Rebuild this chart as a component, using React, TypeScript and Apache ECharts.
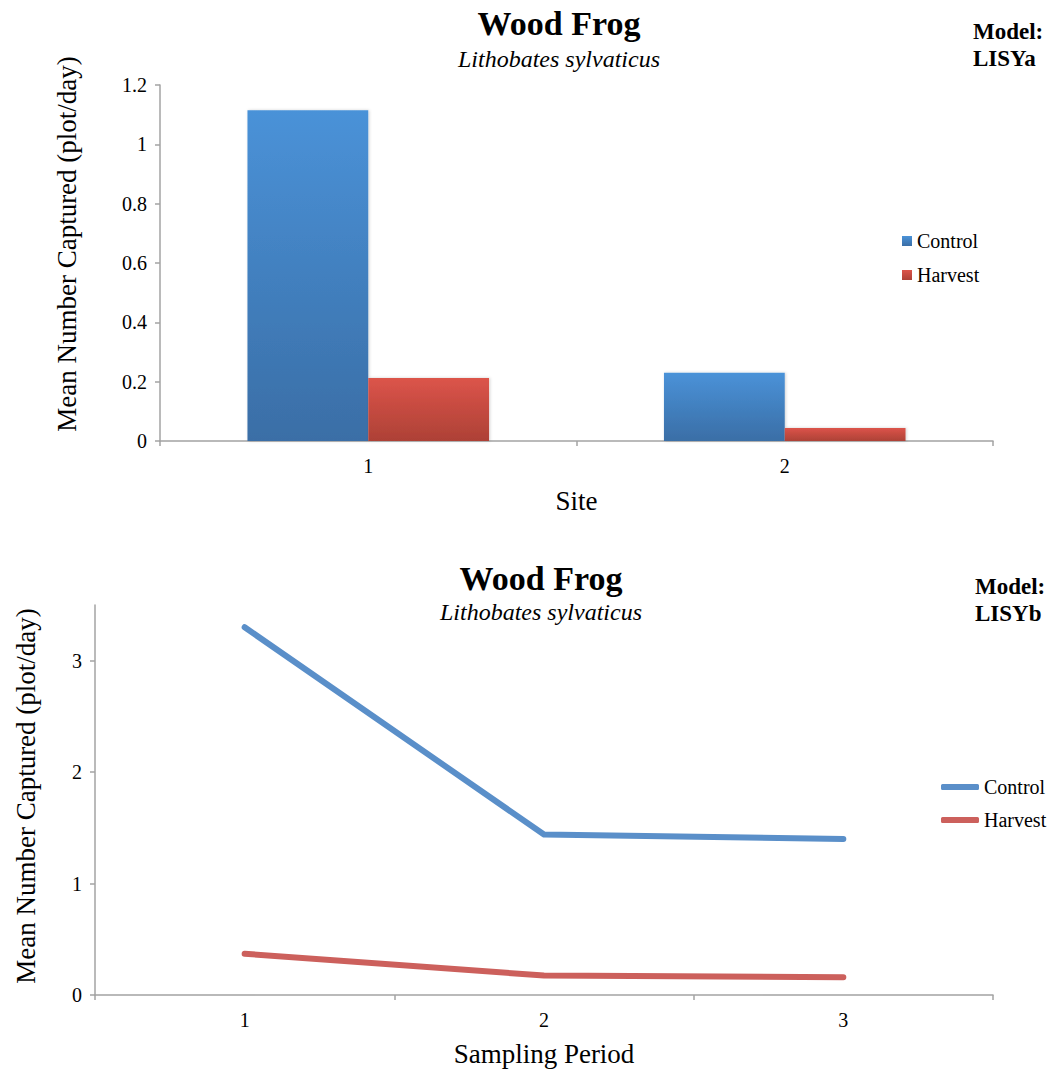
import React, { useEffect, useRef } from "react";
import * as echarts from "echarts";

// Site comparison (LISYa)
const sites = ["1", "2"];
const siteControl = [1.115, 0.23];
const siteHarvest = [0.212, 0.044];

// Sampling period comparison (LISYb)
const periods = ["1", "2", "3"];
const periodControl = [3.3, 1.44, 1.4];
const periodHarvest = [0.37, 0.175, 0.16];

const yTicksBottom = [0, 1, 2, 3];

const FONT = "Liberation Serif";
const AXIS_GREY = "#a3a3a3";

const vGrad = (top: string, bottom: string) =>
  new echarts.graphic.LinearGradient(0, 0, 0, 1, [
    { offset: 0, color: top },
    { offset: 1, color: bottom },
  ]);

const serif = (size: number, weight = "normal", style = "normal") => ({
  fontFamily: FONT,
  fontSize: size,
  fontWeight: weight,
  fontStyle: style,
});

const headerTexts = (
  cx: number,
  titleY: number,
  subY: number,
  modelX: number,
  modelY: number,
  model: string,
  yNameX: number,
  yNameY: number
) => [
  {
    type: "text",
    x: cx,
    y: titleY,
    style: {
      text: "Wood Frog",
      ...serif(34, "bold"),
      fill: "#000",
      align: "center",
      verticalAlign: "middle",
    },
  },
  {
    type: "text",
    x: cx,
    y: subY,
    style: {
      text: "Lithobates sylvaticus",
      ...serif(24, "normal", "italic"),
      fill: "#000",
      align: "center",
      verticalAlign: "middle",
    },
  },
  {
    type: "text",
    x: modelX,
    y: modelY,
    style: {
      text: "Model:\n" + model,
      ...serif(23, "bold"),
      lineHeight: 27,
      fill: "#000",
      align: "left",
      verticalAlign: "middle",
    },
  },
  {
    type: "text",
    x: yNameX,
    y: yNameY,
    rotation: Math.PI / 2,
    style: {
      text: "Mean Number Captured (plot/day)",
      ...serif(27),
      fill: "#000",
      align: "center",
      verticalAlign: "middle",
    },
  },
];

const axisText = { fontFamily: FONT, fontSize: 20, color: "#000" };

export default function App() {
  const topRef = useRef<HTMLDivElement>(null);
  const botRef = useRef<HTMLDivElement>(null);

  useEffect(() => {
    const top = echarts.init(topRef.current!, undefined, { renderer: "svg" });
    const bot = echarts.init(botRef.current!, undefined, { renderer: "svg" });

    top.setOption({
      animation: false,
      textStyle: { fontFamily: FONT },
      grid: { left: 160, right: 61, top: 85, bottom: 95 },
      graphic: headerTexts(559, 23, 59, 973, 45, "LISYa", 67, 244),
      legend: {
        orient: "vertical",
        left: 897,
        top: 226,
        itemWidth: 10,
        itemHeight: 10,
        itemGap: 14,
        icon: "rect",
        textStyle: axisText,
        data: ["Control", "Harvest"],
      },
      xAxis: {
        type: "category",
        data: sites,
        name: "Site",
        nameLocation: "middle",
        nameGap: 46,
        nameTextStyle: { fontFamily: FONT, fontSize: 27, color: "#000" },
        axisLine: { lineStyle: { color: AXIS_GREY, width: 1.5 } },
        axisTick: { show: true, length: 5, lineStyle: { color: AXIS_GREY, width: 1.5 } },
        axisLabel: { ...axisText, margin: 15 },
      },
      yAxis: {
        type: "value",
        min: 0,
        max: 1.2,
        interval: 0.2,
        splitLine: { show: false },
        axisLine: { show: true, lineStyle: { color: AXIS_GREY, width: 1.5 } },
        axisTick: { show: true, length: 5, lineStyle: { color: AXIS_GREY, width: 1.5 } },
        axisLabel: { ...axisText, margin: 13 },
      },
      series: [
        {
          name: "Control",
          type: "bar",
          data: siteControl,
          barGap: "0%",
          barCategoryGap: "42%",
          itemStyle: {
            color: vGrad("#4a92d8", "#3a6ea6"),
            shadowBlur: 3,
            shadowColor: "rgba(0,0,0,0.18)",
            shadowOffsetX: 1,
          },
        },
        {
          name: "Harvest",
          type: "bar",
          data: siteHarvest,
          itemStyle: {
            color: vGrad("#dc544a", "#ad4136"),
            shadowBlur: 3,
            shadowColor: "rgba(0,0,0,0.18)",
            shadowOffsetX: 1,
          },
        },
      ],
    });

    bot.setOption({
      animation: false,
      textStyle: { fontFamily: FONT },
      grid: { left: 95, right: 61, top: 69, bottom: 77 },
      graphic: headerTexts(541, 42, 76, 975, 64, "LISYb", 26, 260),
      legend: {
        orient: "vertical",
        left: 936,
        top: 236,
        itemWidth: 38,
        itemHeight: 6,
        itemGap: 13,
        textStyle: axisText,
        data: [
          { name: "Control", icon: "roundRect" },
          { name: "Harvest", icon: "roundRect" },
        ],
      },
      xAxis: {
        type: "category",
        data: periods,
        boundaryGap: true,
        name: "Sampling Period",
        nameLocation: "middle",
        nameGap: 45,
        nameTextStyle: { fontFamily: FONT, fontSize: 27, color: "#000" },
        axisLine: { lineStyle: { color: AXIS_GREY, width: 1.5 } },
        axisTick: { show: true, length: 5, lineStyle: { color: AXIS_GREY, width: 1.5 } },
        axisLabel: { ...axisText, margin: 15 },
      },
      yAxis: {
        type: "value",
        min: 0,
        max: 3.5,
        interval: 1,
        splitLine: { show: false },
        axisLine: { show: true, lineStyle: { color: AXIS_GREY, width: 1.5 } },
        axisTick: {
          show: true,
          length: 5,
          customValues: yTicksBottom,
          lineStyle: { color: AXIS_GREY, width: 1.5 },
        },
        axisLabel: { ...axisText, margin: 13, customValues: yTicksBottom },
      },
      series: [
        {
          name: "Control",
          type: "line",
          data: periodControl,
          symbol: "none",
          color: "#5a8fc9",
          lineStyle: { color: "#5a8fc9", width: 6, cap: "round", join: "round" },
        },
        {
          name: "Harvest",
          type: "line",
          data: periodHarvest,
          symbol: "none",
          color: "#cc605c",
          lineStyle: { color: "#cc605c", width: 6, cap: "round", join: "round" },
        },
      ],
    });

    return () => {
      top.dispose();
      bot.dispose();
    };
  }, []);

  return (
    <div style={{ position: "absolute", left: 0, top: 0, width: 1054, height: 1072, background: "#fff" }}>
      <div ref={topRef} style={{ position: "absolute", left: 0, top: 0, width: 1054, height: 536 }} />
      <div ref={botRef} style={{ position: "absolute", left: 0, top: 536, width: 1054, height: 536 }} />
    </div>
  );
}
